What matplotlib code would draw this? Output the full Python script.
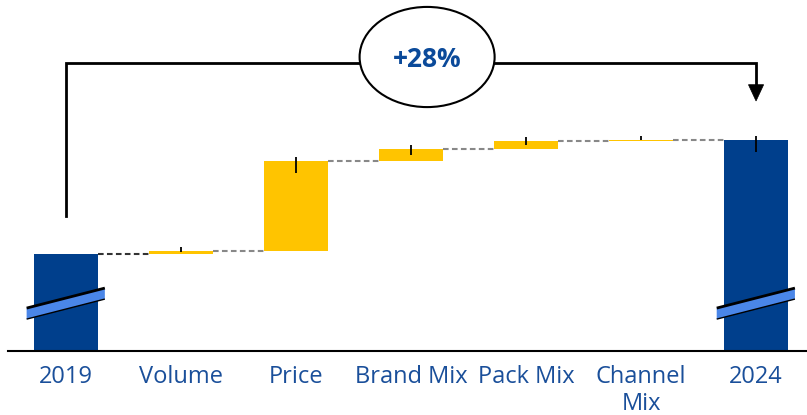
import matplotlib.pyplot as plt
from matplotlib.patches import Ellipse, Polygon
import numpy as np

plt.rcParams['font.family'] = ['Open Sans', 'DejaVu Sans']

# data
categories = ['2019', 'Volume', 'Price', 'Brand Mix', 'Pack Mix', 'Channel\nMix', '2024']
start_value = 100.0
deltas = [0.7, 22.1, 2.9, 2.0, 0.3]
end_value = 128.0
err_low = [0.25, 3.0, 1.4, 0.9, 0.0, 2.9]   # Volume .. 2024
err_high = [1.0, 1.0, 1.0, 1.0, 1.0, 1.0]
growth_label = '+28%'
axis_floor = 76.2   # broken axis starts here

# colours
dark_blue = '#003F8C'
yellow = '#FFC400'
break_blue = '#4A86E8'
label_blue = '#1A4F9A'

fig = plt.figure(figsize=(8.07, 4.15), dpi=100)
ax = fig.add_axes([8 / 807, 64 / 415, 799 / 807, 351 / 415])

w = 0.557
x = np.arange(len(categories))

# totals
ax.bar([0, 6], [start_value - axis_floor, end_value - axis_floor], bottom=axis_floor,
       width=w, color=dark_blue, zorder=2)

# deltas
cum = start_value
tops = []
for i, d in enumerate(deltas):
    ax.bar(i + 1, d, bottom=cum, width=w, color=yellow, zorder=2)
    cum += d
    tops.append(cum)
tops.append(end_value)

# connectors
levels = [start_value] + tops[:-1]
for i, lvl in enumerate(levels):
    col = '#333333' if i == 0 else '#888888'
    ax.plot([i + w / 2, i + 1 - w / 2], [lvl, lvl], color=col, lw=1.5,
            linestyle=(0, (2.7, 1.6)), zorder=1)

# error marks
ax.errorbar(x[1:], tops, yerr=[err_low, err_high], fmt='none', ecolor='black',
            elinewidth=1.3, capsize=0, zorder=3)

# axis break marks on the total bars
for c in [0, 6]:
    xl, xr = c - 0.342, c + 0.338
    poly = Polygon([[xl, 86.74], [xr, 91.65], [xr, 88.95], [xl, 84.03]], closed=True,
                   facecolor=break_blue, edgecolor='none', zorder=4)
    ax.add_patch(poly)
    ax.plot([xl, xr], [86.74, 91.65], color='black', lw=2, zorder=5, solid_capstyle='butt')
    ax.plot([xl, xr], [84.03, 88.95], color='black', lw=1, zorder=5, solid_capstyle='butt')

# growth bracket
bracket_y = 146.9
ax.plot([0, 0, 6, 6], [109.3, bracket_y, bracket_y, 141.5], color='black', lw=2,
        zorder=1, solid_joinstyle='miter')
ax.add_patch(Polygon([[6 - 0.066, 141.6], [6 + 0.066, 141.6], [6, 137.6]], closed=True,
                     facecolor='black', edgecolor='black', lw=0.5, zorder=2))
ax.add_patch(Ellipse((3.14, 148.4), 1.174, 24.6, facecolor='white', edgecolor='black',
                     lw=1.5, zorder=3))
ax.text(3.14, 147.8, growth_label, ha='center', va='center', fontsize=19,
        fontweight='bold', color='#0B4A9A', zorder=4)

ax.set_xlim(-0.504, 6.443)
ax.set_ylim(axis_floor, 162.4)
ax.set_xticks(x)
ax.set_xticklabels(categories, fontsize=17, color=label_blue)
ax.tick_params(axis='x', length=0, pad=10)
ax.set_yticks([])
for s in ['top', 'right', 'left']:
    ax.spines[s].set_visible(False)
ax.spines['bottom'].set_linewidth(1.5)

fig.savefig('out.png', dpi=100)
